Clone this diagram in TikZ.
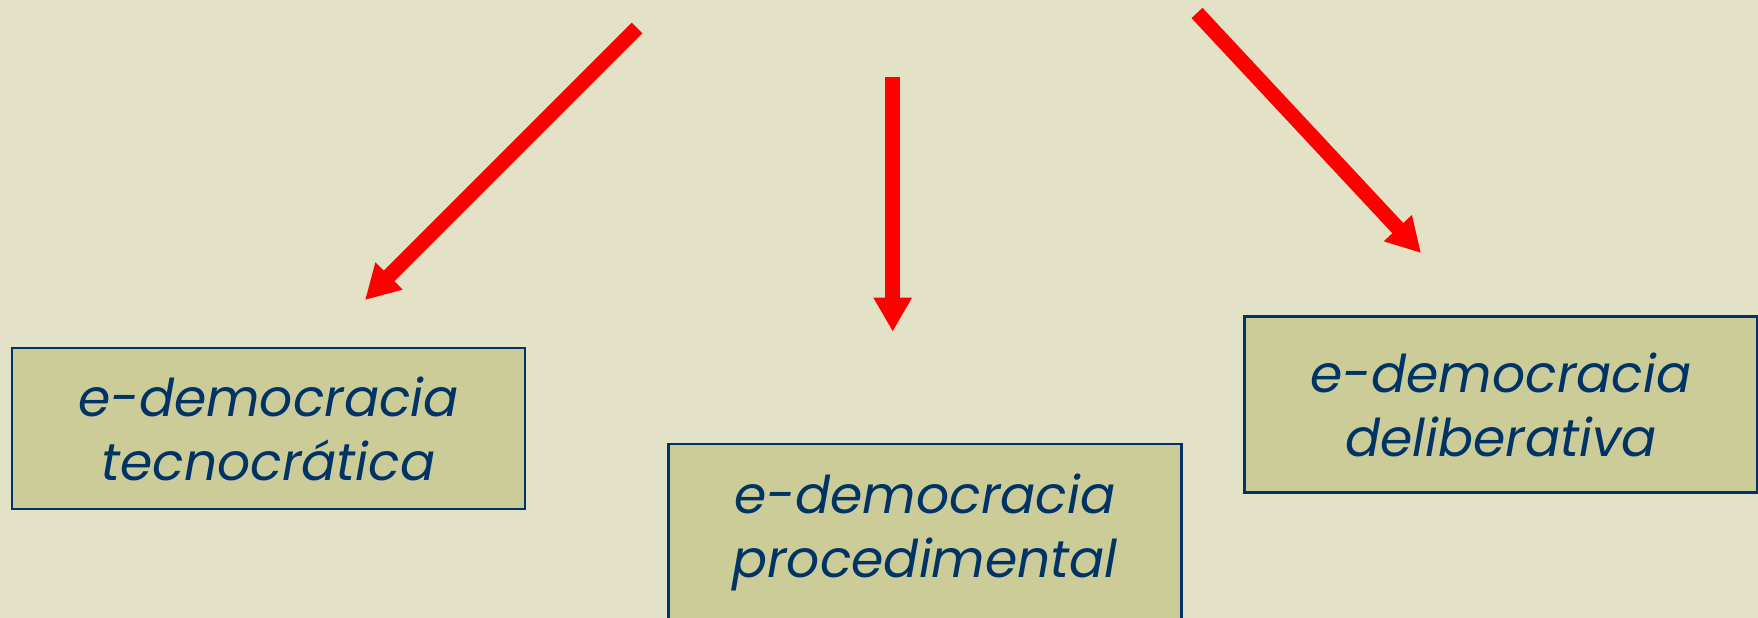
\documentclass[tikz,border=0pt]{standalone}
\usepackage{fontspec}
\setmainfont{Poppins}
\usetikzlibrary{arrows.meta}
\definecolor{bgcol}{RGB}{227,226,199}
\definecolor{boxfill}{RGB}{204,204,153}
\definecolor{navy}{RGB}{0,51,102}
\definecolor{arrred}{RGB}{255,0,0}
\begin{document}
\begin{tikzpicture}[x=1pt,y=-1pt,
  box/.style={draw=navy, line width=2.5pt, fill=boxfill, minimum width=513pt,
    inner sep=0pt, text=navy, align=center,
    font=\fontsize{52}{64}\selectfont\itshape},
  redarrow/.style={draw=arrred, line width=15pt,
    -{Triangle[length=34pt,width=36pt]}}]
\useasboundingbox (0,0) rectangle (1758,618);
\clip (0,0) rectangle (1758,618);
\fill[bgcol] (0,0) rectangle (1758,618);
\node[box, minimum height=161pt] (tec) at (268.5,428.5) {e-democracia\\tecnocrática};
\node[box, minimum height=176pt] (proc) at (925,532) {e-democracia\\procedimental};
\node[box, minimum height=176pt] (delib) at (1501,404.7) {e-democracia\\deliberativa};
\coordinate (a1s) at (637,28);
\coordinate (a1e) at (365,300);
\coordinate (a2s) at (892.7,76.7);
\coordinate (a2e) at (892.7,331.7);
\coordinate (a3s) at (1197,13);
\coordinate (a3e) at (1421,253);
\draw[redarrow] (a1s) -- (a1e);
\draw[redarrow] (a2s) -- (a2e);
\draw[redarrow] (a3s) -- (a3e);
\end{tikzpicture}
\end{document}
